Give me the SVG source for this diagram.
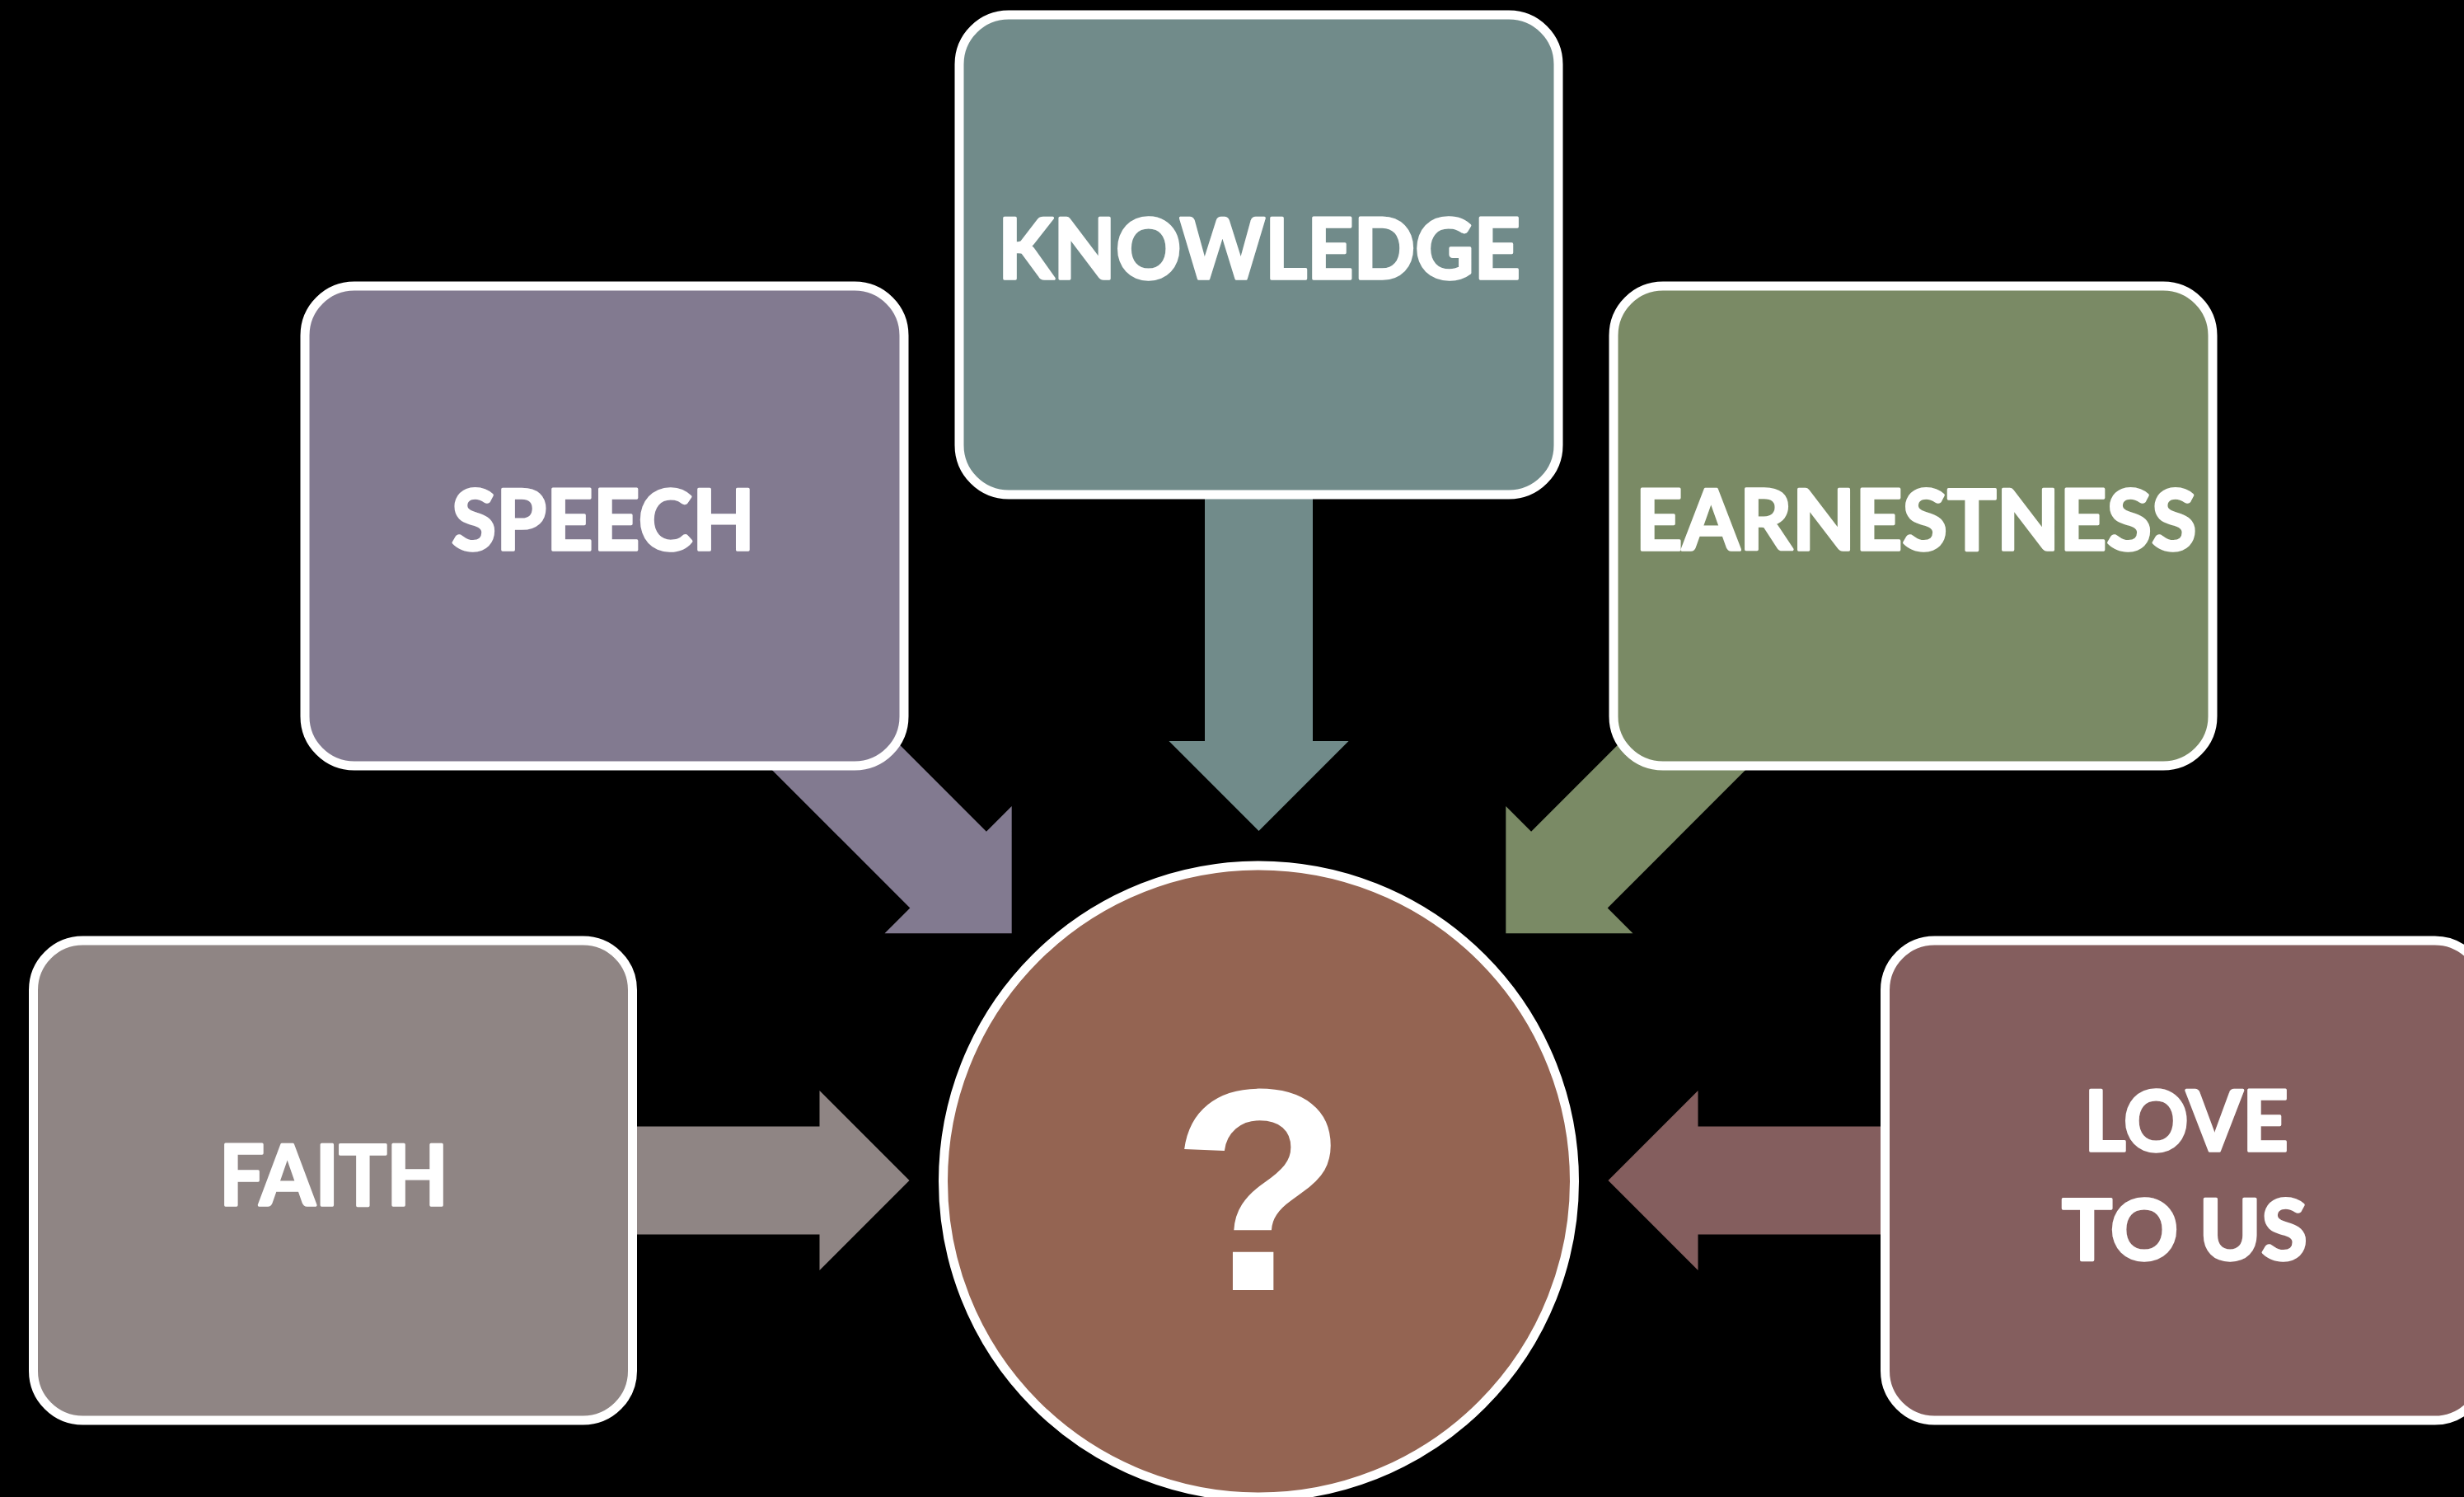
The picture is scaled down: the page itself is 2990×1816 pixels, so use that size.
<svg xmlns="http://www.w3.org/2000/svg" xmlns:xlink="http://www.w3.org/1999/xlink" width="2990" height="1816" viewBox="0 0 2990 1816">
  <style>
    .box { stroke: #ffffff; stroke-width: 11; }
    .lbl { font-family: Lato, "Open Sans", "Liberation Sans", sans-serif; font-weight: 700; font-size: 102px; fill: #ffffff; stroke: #ffffff; stroke-width: 3.5; stroke-linejoin: round; text-anchor: middle; }
    .q { font-family: "Liberation Sans", Arial, sans-serif; font-weight: 700; font-size: 350px; fill: #ffffff; text-anchor: middle; }
  </style>
  <defs>
    <path id="arrow" d="M-424,0 L-533,-109 L-533,-65.5 L-1000,-65.5 L-1000,65.5 L-533,65.5 L-533,109 Z"/>
  </defs>
  <rect x="0" y="0" width="2990" height="1816" fill="#000000"/>

  <g id="connectors">
    <use xlink:href="#arrow" href="#arrow" fill="#8F8584" transform="translate(1527.5,1432) rotate(0)"/>
    <use xlink:href="#arrow" href="#arrow" fill="#827A90" transform="translate(1527.5,1432) rotate(45)"/>
    <use xlink:href="#arrow" href="#arrow" fill="#718B8A" transform="translate(1527.5,1432) rotate(90)"/>
    <use xlink:href="#arrow" href="#arrow" fill="#7A8A65" transform="translate(1527.5,1432) rotate(135)"/>
    <use xlink:href="#arrow" href="#arrow" fill="#845E5E" transform="translate(1527.5,1432) rotate(180)"/>
  </g>

  <g id="node-knowledge">
    <rect class="box" x="1164" y="18" width="727" height="582" rx="60" ry="60" fill="#718B8A"/>
    <text class="lbl" x="1528" y="338" textLength="634" lengthAdjust="spacingAndGlyphs">KNOWLEDGE</text>
  </g>

  <g id="node-speech">
    <rect class="box" x="370" y="347" width="727" height="582" rx="60" ry="60" fill="#827A90"/>
    <text class="lbl" x="732" y="667" textLength="368" lengthAdjust="spacingAndGlyphs">SPEECH</text>
  </g>

  <g id="node-earnestness">
    <rect class="box" x="1958" y="347" width="727" height="582" rx="60" ry="60" fill="#7A8A65"/>
    <text class="lbl" x="2325" y="667" textLength="681" lengthAdjust="spacingAndGlyphs">EARNESTNESS</text>
  </g>

  <g id="node-faith">
    <rect class="box" x="40.5" y="1141" width="727" height="582" rx="60" ry="60" fill="#8F8584"/>
    <text class="lbl" x="405" y="1462" textLength="278" lengthAdjust="spacingAndGlyphs">FAITH</text>
  </g>

  <g id="node-love">
    <rect class="box" x="2287.5" y="1141" width="727" height="582" rx="60" ry="60" fill="#845E5E"/>
    <text class="lbl" x="2653" y="1396" textLength="248" lengthAdjust="spacingAndGlyphs">LOVE</text>
    <text class="lbl" x="2651" y="1528" textLength="298" lengthAdjust="spacingAndGlyphs">TO US</text>
  </g>

  <g id="node-center">
    <circle class="box" cx="1527.5" cy="1433" r="383" fill="#946452"/>
    <text class="q" x="1528" y="1565">?</text>
  </g>
</svg>
